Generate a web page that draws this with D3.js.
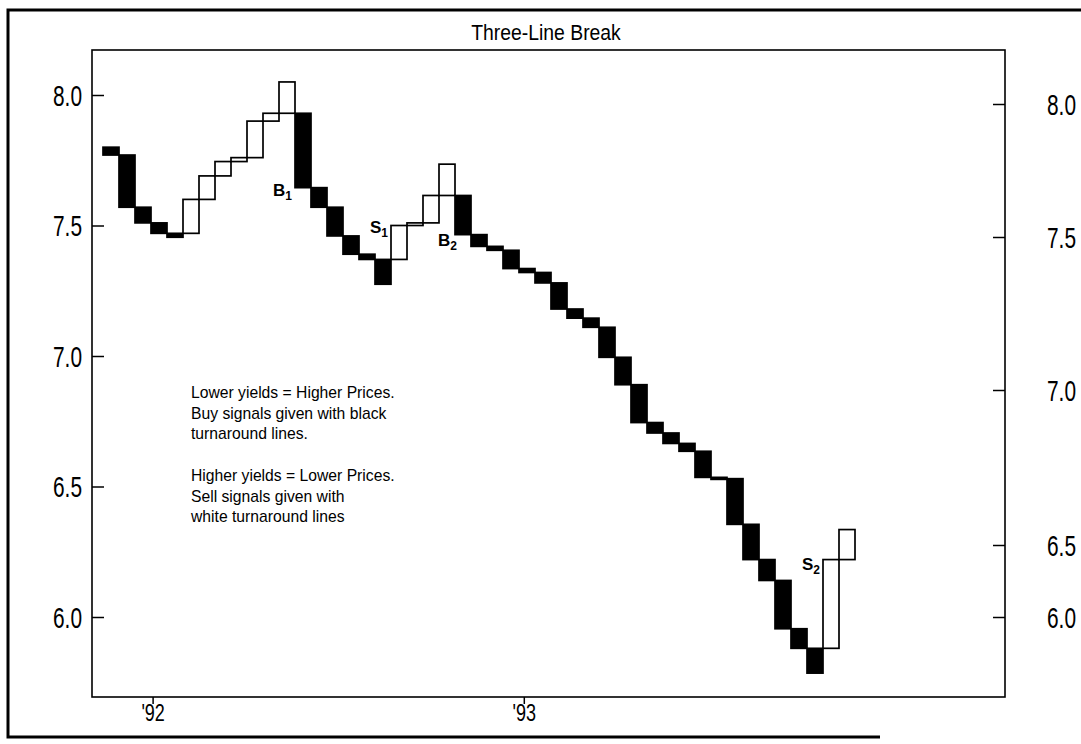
<!DOCTYPE html>
<html>
<head>
<meta charset="utf-8">
<script src="https://cdn.jsdelivr.net/npm/d3@7"></script>
<style>
  body { margin: 0; background: #fff; }
  svg { display: block; }
</style>
</head>
<body>
<svg id="chart" width="1081" height="744"></svg>
<script>
// three-line break lines, in order (yield %)
const lineOpen = [7.80, 7.77, 7.57, 7.51, 7.47, 7.47, 7.60, 7.69, 7.745, 7.76, 7.90, 7.93,
  7.93, 7.645, 7.57, 7.46, 7.39, 7.37, 7.37, 7.50, 7.51, 7.615, 7.615, 7.465, 7.42, 7.405,
  7.335, 7.32, 7.28, 7.18, 7.145, 7.11, 6.995, 6.89, 6.745, 6.705, 6.665, 6.635, 6.535, 6.53,
  6.355, 6.22, 6.14, 5.955, 5.88, 5.88, 6.22];
const lineClose = [7.77, 7.57, 7.51, 7.47, 7.455, 7.60, 7.69, 7.745, 7.76, 7.90, 7.93, 8.05,
  7.645, 7.57, 7.46, 7.39, 7.37, 7.275, 7.50, 7.51, 7.615, 7.735, 7.465, 7.42, 7.405, 7.335,
  7.32, 7.28, 7.18, 7.145, 7.11, 6.995, 6.89, 6.745, 6.705, 6.665, 6.635, 6.535, 6.53, 6.355,
  6.22, 6.14, 5.955, 5.88, 5.785, 6.22, 6.335];

const yTicks = [6.0, 6.5, 7.0, 7.5, 8.0];
// the right-hand scale in the scan is pasted on unevenly; pixel rows of its ticks
const rightTickRows = [617, 545, 390, 237, 104];
const yearLabels = ["'92", "'93"];
const yearPos = [3.1, 26.3];   // measured in line widths

// signal markers: line index, yield at baseline, which side
const sigName = ["B", "S", "B", "S"];
const sigSub = ["1", "1", "2", "2"];
const sigLine = [12, 18, 21, 45];
const sigYield = [7.613, 7.471, 7.421, 6.18];
const sigAnchor = ["end", "end", "start", "end"];

const noteLines = [
  "Lower yields = Higher Prices.",
  "Buy signals given with black",
  "turnaround lines.",
  "",
  "Higher yields = Lower Prices.",
  "Sell signals given with",
  "white turnaround lines"
];

const W = 1081, H = 744;
const plot = { left: 92, right: 1005, top: 50, bottom: 697 };
const textFont = "'Liberation Sans', Arial, Helvetica, sans-serif";
const NARROW = 0.72;   // plotter style narrow digits

const svg = d3.select("#chart");

const x = d3.scaleLinear().domain([-0.6875, 56.375]).range([plot.left, plot.right]);
const y = d3.scaleLinear().domain([6.0, 8.0]).range([617, 95]);
const yRight = d3.scaleLinear().domain(yTicks).range(rightTickRows);

// outer frame (open on the right like the scan)
svg.append("path")
  .attr("d", `M${W},10 L8,10 L8,737 L880,737`)
  .attr("fill", "none").attr("stroke", "#000").attr("stroke-width", 3);

// title
svg.append("text")
  .attr("transform", "translate(546,40) scale(0.88,1)")
  .attr("text-anchor", "middle")
  .attr("font-family", textFont).attr("font-size", 22)
  .text("Three-Line Break");

// plot box
svg.append("rect")
  .attr("x", plot.left).attr("y", plot.top)
  .attr("width", plot.right - plot.left).attr("height", plot.bottom - plot.top)
  .attr("fill", "none").attr("stroke", "#000").attr("stroke-width", 1.6);

function styleNarrow(sel, dx, anchor) {
  sel.selectAll("text")
    .attr("x", 0).attr("dy", "0.36em")
    .attr("text-anchor", anchor)
    .attr("transform", `translate(${dx},0) scale(${NARROW},1)`)
    .attr("font-family", textFont).attr("font-size", 29).attr("fill", "#000");
}

// left axis
const gl = svg.append("g").attr("transform", `translate(${plot.left},0)`)
  .call(d3.axisRight(y).tickValues(yTicks).tickSize(12).tickFormat(d3.format(".1f")));
gl.select(".domain").remove();
gl.selectAll("line").attr("stroke-width", 1.5);
styleNarrow(gl, -10, "end");

// right axis
const gr = svg.append("g").attr("transform", `translate(${plot.right},0)`)
  .call(d3.axisLeft(yRight).tickValues(yTicks).tickSize(12).tickFormat(d3.format(".1f")));
gr.select(".domain").remove();
gr.selectAll("line").attr("stroke-width", 1.5);
styleNarrow(gr, 42, "start");

// bottom axis (years)
const gb = svg.append("g").attr("transform", `translate(0,${plot.bottom})`)
  .call(d3.axisBottom(x).tickValues(yearPos).tickSize(7).tickFormat((d, i) => yearLabels[i]));
gb.select(".domain").remove();
gb.selectAll("line").attr("stroke-width", 1.5);
gb.selectAll("text")
  .attr("y", 0).attr("dy", "0.71em")
  .attr("transform", `translate(0,7) scale(0.75,1)`)
  .attr("font-family", textFont).attr("font-size", 24).attr("fill", "#000");

// the lines (boxes)
const lines = lineOpen.map((o, i) => ({ i, open: o, close: lineClose[i], up: lineClose[i] > o }));

svg.append("g").selectAll("rect")
  .data(lines)
  .join("rect")
  .attr("x", d => x(d.i))
  .attr("width", d => x(d.i + 1) - x(d.i))
  .attr("y", d => y(Math.max(d.open, d.close)))
  .attr("height", d => Math.max(2, Math.abs(y(d.open) - y(d.close))))
  .attr("fill", d => d.up ? "#fff" : "#000")
  .attr("stroke", "#000")
  .attr("stroke-width", 1.7);

// signal labels
const sig = svg.append("g").selectAll("text")
  .data(sigName.map((n, i) => ({ n, sub: sigSub[i], line: sigLine[i], v: sigYield[i], anchor: sigAnchor[i] })))
  .join("text")
  .attr("x", d => d.anchor === "end" ? x(d.line) - 3 : x(d.line) - 1)
  .attr("y", d => y(d.v))
  .attr("text-anchor", d => d.anchor)
  .attr("font-family", textFont).attr("font-size", 17).attr("font-weight", "bold");
sig.append("tspan").text(d => d.n);
sig.append("tspan").attr("dy", 4).attr("font-size", 12).text(d => d.sub);

// note text
svg.append("g").selectAll("text")
  .data(noteLines)
  .join("text")
  .attr("x", 191)
  .attr("y", (d, i) => 398 + i * 20.7)
  .attr("font-family", textFont).attr("font-size", 15.7)
  .text(d => d);
</script>
</body>
</html>
